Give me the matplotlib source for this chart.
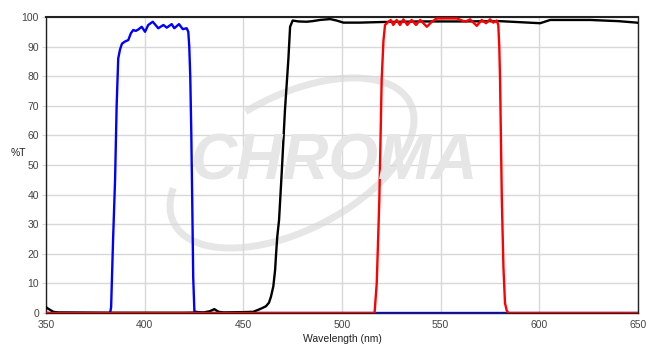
import matplotlib
matplotlib.use("Agg")
import matplotlib.pyplot as plt
from matplotlib.patches import Arc
from matplotlib.transforms import IdentityTransform

plt.rcParams["font.family"] = ["Liberation Sans", "DejaVu Sans"]

# excitation filter (blue)
wl_ex = [350, 380, 382.5, 383, 384, 385, 385.8, 386.6, 387.5, 388.5, 390, 391.7,
         393, 394.2, 395.5, 396.8, 398.5, 400.2, 401.8, 404.1, 406.9, 409.5,
         411.2, 413.7, 415, 417.4, 419.3, 421.3, 422.1, 422.6, 423.1, 423.6,
         424.1, 424.6, 425.2, 430, 650]
t_ex = [0, 0, 0, 2, 25, 45, 70, 86, 89, 91, 91.7, 92.2,
        94.5, 95.6, 95.3, 95.8, 96.7, 95, 97.3, 98.4, 96.2, 97.3,
        96.4, 97.6, 96.2, 97.6, 95.9, 96.2, 95, 90, 80, 62,
        38, 12, 0.5, 0, 0]

# dichroic (black)
wl_di = [350, 351, 353.7, 356, 380, 420, 430, 433, 435.3, 437.5, 440, 450, 455,
         458, 460, 461.5, 463, 464, 465.2, 466.1, 466.6, 467.2, 468.1, 469.5,
         471.1, 472.8, 473.7, 475, 478, 482.1, 485, 488.9, 494, 497.3, 500.7,
         509, 520, 540, 560, 580, 600.4, 605.5, 625.7, 640, 649.4, 650]
t_di = [2, 1.5, 0.4, 0.2, 0.1, 0.1, 0.2, 0.6, 1.3, 0.4, 0.2, 0.3, 0.4,
        1.2, 1.8, 2.3, 3.5, 5.5, 9, 14.5, 20, 25.8, 31.4, 48,
        68.6, 85.5, 96.7, 98.8, 98.5, 98.4, 98.6, 99, 99.3, 98.8, 98.1,
        98.1, 98.3, 98.5, 98.5, 98.6, 97.9, 99, 99, 98.6, 98.1, 98]

# emission filter (red)
wl_em = [350, 516.5, 517.6, 518.4, 518.9, 519.5, 520.1, 521, 521.8, 523.5, 524.7,
         526, 527.7, 529.4, 531.1, 533.1, 535.3, 537.5, 539.6, 543, 545.5, 548,
         553.1, 558.2, 562.4, 564.9, 568.3, 570.8, 573, 575, 576.7, 578.4, 579.2,
         579.7, 580.1, 581, 581.8, 582.6, 583.5, 584.3, 650]
t_em = [0, 0, 10, 27, 38, 58, 78.7, 92, 97.3, 98.4, 99,
        97.3, 99, 97.3, 99.2, 97.3, 99, 97.3, 99, 96.7, 98.4, 99.5,
        99.5, 99.5, 98.4, 99.2, 97, 99, 97.9, 99.2, 98.1, 98.8, 97.3,
        90, 78.7, 38, 15.6, 3.3, 0.8, 0, 0]

x_ticks = [350, 400, 450, 500, 550, 600, 650]
y_ticks = [0, 10, 20, 30, 40, 50, 60, 70, 80, 90, 100]

fig = plt.figure(figsize=(6.52, 3.54), dpi=100)
ax = fig.add_axes([46 / 652, 41 / 354, 592 / 652, 296 / 354])

# faint logo watermark behind the plot
wm_gray = "#e6e6e6"
fig.text(335 / 652, 1 - 163 / 354, "CHROMA", fontsize=46, fontweight="bold",
         fontstyle="italic", color=wm_gray, ha="center", va="center", zorder=0)
arc = Arc((292, 354 - 163), 265, 135, angle=27, theta1=165, theta2=465,
          transform=IdentityTransform(), color=wm_gray, lw=5, zorder=0)
fig.add_artist(arc)
ax.patch.set_alpha(0)

ax.plot(wl_ex, t_ex, color="#0000ff", lw=1.7, zorder=3)
ax.plot(wl_di, t_di, color="black", lw=1.7, zorder=4)
ax.plot(wl_em, t_em, color="#ff0000", lw=1.7, zorder=5)

ax.set_xlim(350, 650)
ax.set_ylim(0, 100)
ax.set_xticks(x_ticks)
ax.set_yticks(y_ticks)
ax.grid(True, color="#d8d8d8", lw=1)
ax.set_axisbelow(True)
ax.tick_params(axis="x", length=0, pad=5, labelsize=7.5, labelcolor="#444444")
ax.tick_params(axis="y", length=3, color="#d8d8d8", pad=2, labelsize=7.5,
               labelcolor="#444444")
for s in ax.spines.values():
    s.set_color("#222222")
    s.set_linewidth(1)
ax.spines["top"].set_linewidth(1.5)

ax.set_xlabel("Wavelength (nm)", fontsize=7.5, color="#222222", labelpad=3)
fig.text(18 / 652, 1 - 153 / 354, "%T", fontsize=7.5, color="#222222",
         ha="center", va="center")

fig.savefig("out.png", dpi=100)
